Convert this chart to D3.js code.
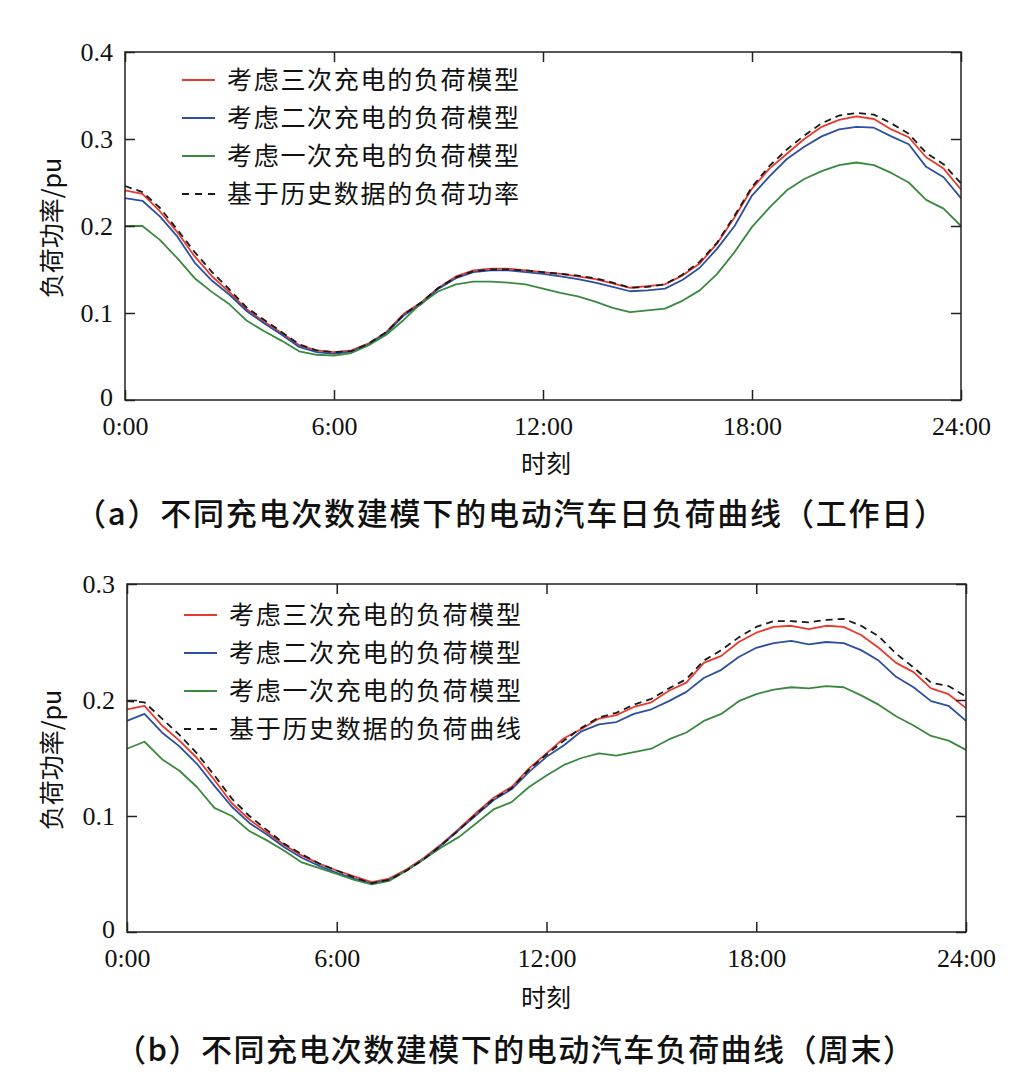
<!DOCTYPE html>
<html>
<head>
<meta charset="utf-8">
<script src="https://cdn.jsdelivr.net/npm/d3@7"></script>
<style>
  body { margin: 0; background: #fff; }
  svg { display: block; }
</style>
</head>
<body>
<div id="chart"></div>
<script>
/***********************************************
 * Data (30 min steps)
 **********************************************/
const hours = [0, 0.5, 1, 1.5, 2, 2.5, 3, 3.5, 4, 4.5, 5, 5.5, 6, 6.5, 7, 7.5,
               8, 8.5, 9, 9.5, 10, 10.5, 11, 11.5, 12, 12.5, 13, 13.5, 14, 14.5,
               15, 15.5, 16, 16.5, 17, 17.5, 18, 18.5, 19, 19.5, 20, 20.5, 21,
               21.5, 22, 22.5, 23, 23.5, 24];

const xTickValues = [0, 6, 12, 18, 24];
const xTickLabels = ["0:00", "6:00", "12:00", "18:00", "24:00"];

// ----- (a) weekday
const weekdayThree = [0.241, 0.237, 0.217, 0.193, 0.165, 0.142, 0.124, 0.104, 0.090, 0.077,
  0.063, 0.057, 0.055, 0.057, 0.065, 0.078, 0.099, 0.112, 0.129, 0.142, 0.149, 0.151, 0.151,
  0.149, 0.147, 0.145, 0.142, 0.139, 0.134, 0.129, 0.131, 0.133, 0.143, 0.157, 0.180, 0.210,
  0.243, 0.266, 0.283, 0.300, 0.314, 0.322, 0.326, 0.323, 0.311, 0.302, 0.279, 0.266, 0.242];
const weekdayTwo = [0.232, 0.229, 0.211, 0.188, 0.158, 0.137, 0.121, 0.102, 0.088, 0.075,
  0.061, 0.055, 0.053, 0.056, 0.064, 0.077, 0.097, 0.110, 0.128, 0.140, 0.147, 0.149, 0.149,
  0.147, 0.145, 0.142, 0.139, 0.135, 0.130, 0.125, 0.126, 0.128, 0.138, 0.152, 0.174, 0.200,
  0.235, 0.257, 0.277, 0.291, 0.303, 0.311, 0.314, 0.313, 0.303, 0.294, 0.268, 0.256, 0.232];
const weekdayOne = [0.200, 0.200, 0.184, 0.163, 0.140, 0.124, 0.110, 0.091, 0.079, 0.068,
  0.056, 0.052, 0.051, 0.054, 0.063, 0.075, 0.092, 0.111, 0.125, 0.133, 0.136, 0.136, 0.135,
  0.133, 0.128, 0.123, 0.119, 0.113, 0.106, 0.101, 0.103, 0.105, 0.114, 0.126, 0.145, 0.170,
  0.199, 0.221, 0.241, 0.254, 0.263, 0.270, 0.273, 0.270, 0.261, 0.250, 0.230, 0.220, 0.200];
const weekdayHist = [0.246, 0.239, 0.221, 0.196, 0.170, 0.147, 0.127, 0.106, 0.092, 0.078,
  0.064, 0.057, 0.055, 0.056, 0.065, 0.078, 0.098, 0.112, 0.129, 0.141, 0.148, 0.150, 0.150,
  0.149, 0.147, 0.145, 0.143, 0.140, 0.135, 0.129, 0.130, 0.133, 0.144, 0.159, 0.181, 0.212,
  0.245, 0.269, 0.288, 0.304, 0.318, 0.327, 0.330, 0.328, 0.318, 0.306, 0.284, 0.271, 0.249];

// ----- (b) weekend
const weekendThree = [0.192, 0.195, 0.178, 0.165, 0.150, 0.131, 0.111, 0.097, 0.086, 0.075,
  0.066, 0.059, 0.053, 0.048, 0.043, 0.046, 0.054, 0.064, 0.076, 0.089, 0.103, 0.116, 0.125,
  0.141, 0.154, 0.167, 0.175, 0.184, 0.187, 0.194, 0.198, 0.208, 0.215, 0.232, 0.238, 0.250,
  0.258, 0.263, 0.264, 0.261, 0.264, 0.263, 0.256, 0.245, 0.232, 0.224, 0.210, 0.205, 0.193];
const weekendTwo = [0.182, 0.188, 0.172, 0.160, 0.145, 0.126, 0.108, 0.094, 0.084, 0.073,
  0.064, 0.057, 0.051, 0.046, 0.042, 0.045, 0.053, 0.063, 0.075, 0.088, 0.101, 0.114, 0.123,
  0.138, 0.151, 0.161, 0.173, 0.179, 0.181, 0.188, 0.192, 0.199, 0.207, 0.219, 0.226, 0.237,
  0.245, 0.249, 0.251, 0.248, 0.250, 0.249, 0.243, 0.234, 0.220, 0.211, 0.199, 0.195, 0.182];
const weekendOne = [0.158, 0.164, 0.149, 0.139, 0.125, 0.107, 0.100, 0.087, 0.079, 0.070,
  0.060, 0.055, 0.050, 0.045, 0.041, 0.044, 0.053, 0.063, 0.073, 0.082, 0.094, 0.106, 0.112,
  0.125, 0.135, 0.144, 0.150, 0.154, 0.152, 0.155, 0.158, 0.166, 0.172, 0.182, 0.188, 0.199,
  0.205, 0.209, 0.211, 0.210, 0.212, 0.211, 0.204, 0.196, 0.186, 0.178, 0.169, 0.165, 0.157];
const weekendHist = [0.199, 0.198, 0.184, 0.170, 0.154, 0.135, 0.115, 0.100, 0.088, 0.076,
  0.067, 0.059, 0.053, 0.047, 0.042, 0.045, 0.053, 0.063, 0.075, 0.088, 0.102, 0.115, 0.124,
  0.140, 0.153, 0.165, 0.176, 0.185, 0.189, 0.196, 0.201, 0.210, 0.218, 0.234, 0.243, 0.254,
  0.263, 0.268, 0.268, 0.267, 0.269, 0.270, 0.264, 0.255, 0.240, 0.228, 0.215, 0.212, 0.203];

const weekdayNames = ["考虑三次充电的负荷模型", "考虑二次充电的负荷模型",
                      "考虑一次充电的负荷模型", "基于历史数据的负荷功率"];
const weekendNames = ["考虑三次充电的负荷模型", "考虑二次充电的负荷模型",
                      "考虑一次充电的负荷模型", "基于历史数据的负荷曲线"];

const weekdayYTicks = [0, 0.1, 0.2, 0.3, 0.4];
const weekendYTicks = [0, 0.1, 0.2, 0.3];

// ----- styles per series (three, two, one, history)
const seriesColors = ["#e8392d", "#2c50a0", "#3a8a3e", "#1a1a1a"];
const seriesDash = [null, null, null, "7,5"];

const serif = "'Liberation Serif', 'Times New Roman', serif";
const cjk = "'Noto Sans CJK SC', sans-serif";

/***********************************************
 * Layout of the two panels
 **********************************************/
const panels = [
  {
    box: { left: 125, top: 52, right: 961, bottom: 400 },
    yMax: 0.4, yTicks: weekdayYTicks,
    series: [weekdayThree, weekdayTwo, weekdayOne, weekdayHist],
    names: weekdayNames,
    legendTop: 80,
    xLabelY: 464,
    caption: "（a）不同充电次数建模下的电动汽车日负荷曲线（工作日）",
    captionX: 75, captionW: 870, captionY: 514
  },
  {
    box: { left: 127, top: 584, right: 966, bottom: 932 },
    yMax: 0.3, yTicks: weekendYTicks,
    series: [weekendThree, weekendTwo, weekendOne, weekendHist],
    names: weekendNames,
    legendTop: 615,
    xLabelY: 998,
    caption: "（b）不同充电次数建模下的电动汽车负荷曲线（周末）",
    captionX: 115, captionW: 799, captionY: 1050
  }
];

const svg = d3.select("#chart")
  .append("svg")
  .attr("width", 1025)
  .attr("height", 1091);

function drawPanel(p) {
  const b = p.box;
  const x = d3.scaleLinear().domain([0, 24]).range([b.left, b.right]);
  const y = d3.scaleLinear().domain([0, p.yMax]).range([b.bottom, b.top]);

  const g = svg.append("g");

  // curves
  const line = d3.line()
    .x((d, i) => x(hours[i]))
    .y(d => y(d));

  p.series.forEach((vals, i) => {
    g.append("path")
      .datum(vals)
      .attr("d", line)
      .attr("fill", "none")
      .attr("stroke", seriesColors[i])
      .attr("stroke-width", 1.8)
      .attr("stroke-dasharray", seriesDash[i])
      .attr("stroke-linejoin", "round");
  });

  // axes (ticks pointing inward)
  const axBottom = d3.axisBottom(x)
    .tickValues(xTickValues)
    .tickFormat((d, i) => xTickLabels[i])
    .tickSize(-10)
    .tickPadding(17);
  g.append("g")
    .attr("transform", `translate(0,${b.bottom})`)
    .call(axBottom)
    .call(a => a.select(".domain").remove())
    .call(a => a.selectAll("text").attr("font-family", serif).attr("font-size", 26).attr("fill", "#111"));

  const axTop = d3.axisTop(x)
    .tickValues(xTickValues)
    .tickFormat("")
    .tickSize(-10);
  g.append("g")
    .attr("transform", `translate(0,${b.top})`)
    .call(axTop)
    .call(a => a.select(".domain").remove());

  const axLeft = d3.axisLeft(y)
    .tickValues(p.yTicks)
    .tickFormat(d => d === 0 ? "0" : d3.format(".1f")(d))
    .tickSize(-10)
    .tickPadding(12);
  g.append("g")
    .attr("transform", `translate(${b.left},0)`)
    .call(axLeft)
    .call(a => a.select(".domain").remove())
    .call(a => a.selectAll("text").attr("font-family", serif).attr("font-size", 26).attr("fill", "#111"))
    // the "0" label sits a little above the corner, as in the original
    .call(a => a.selectAll("text").filter(d => d === 0).attr("dy", "0.2em"));

  const axRight = d3.axisRight(y)
    .tickValues(p.yTicks)
    .tickFormat("")
    .tickSize(-10);
  g.append("g")
    .attr("transform", `translate(${b.right},0)`)
    .call(axRight)
    .call(a => a.select(".domain").remove());

  g.selectAll(".tick line").attr("stroke", "#222").attr("stroke-width", 1.5);

  // frame
  g.append("rect")
    .attr("x", b.left).attr("y", b.top)
    .attr("width", b.right - b.left).attr("height", b.bottom - b.top)
    .attr("fill", "none")
    .attr("stroke", "#222")
    .attr("stroke-width", 1.5);

  // legend
  const lg = g.append("g");
  p.names.forEach((name, i) => {
    const ly = p.legendTop + i * 38;
    lg.append("line")
      .attr("x1", b.left + 57).attr("x2", b.left + 90)
      .attr("y1", ly).attr("y2", ly)
      .attr("stroke", seriesColors[i])
      .attr("stroke-width", 1.8)
      .attr("stroke-dasharray", seriesDash[i] ? "7,6" : null);
    lg.append("text")
      .attr("x", b.left + 102).attr("y", ly)
      .attr("dy", "0.36em")
      .attr("font-family", cjk)
      .attr("font-size", 25)
      .attr("fill", "#111")
      .attr("textLength", 292)
      .attr("lengthAdjust", "spacing")
      .text(name);
  });

  // axis titles
  g.append("text")
    .attr("transform", `translate(52,${(b.top + b.bottom) / 2 + 2}) rotate(-90)`)
    .attr("text-anchor", "middle")
    .attr("dy", "0.36em")
    .attr("font-family", cjk)
    .attr("font-size", 25)
    .attr("fill", "#111")
    .text("负荷功率/pu");

  g.append("text")
    .attr("x", 546).attr("y", p.xLabelY)
    .attr("text-anchor", "middle")
    .attr("dy", "0.36em")
    .attr("font-family", cjk)
    .attr("font-size", 25)
    .attr("fill", "#111")
    .text("时刻");

  // caption
  g.append("text")
    .attr("x", p.captionX).attr("y", p.captionY)
    .attr("dy", "0.36em")
    .attr("font-family", cjk)
    .attr("font-weight", 500)
    .attr("font-size", 31)
    .attr("fill", "#111")
    .attr("textLength", p.captionW)
    .attr("lengthAdjust", "spacing")
    .text(p.caption);
}

panels.forEach(drawPanel);
</script>
</body>
</html>
